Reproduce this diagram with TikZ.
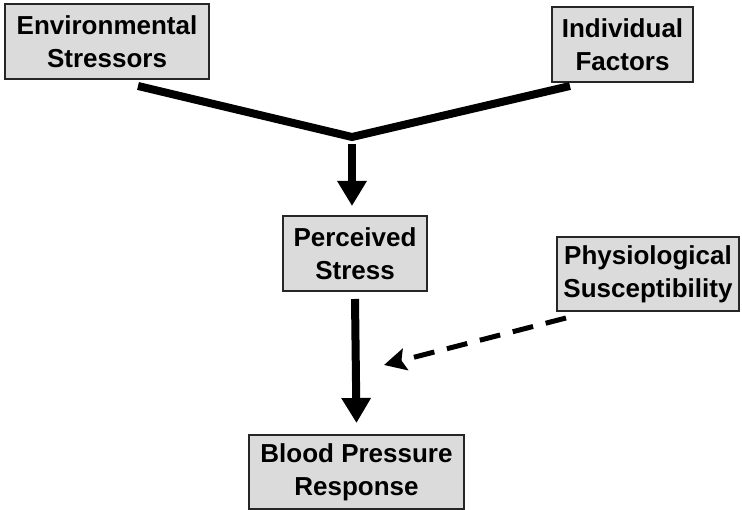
\documentclass[tikz,border=0pt]{standalone}
\usepackage{fontspec}
\setmainfont{Liberation Sans}
\usepackage{tikz}
\usetikzlibrary{calc,positioning,arrows,arrows.meta}
\tikzset{
	>=stealth',
	factorbox/.style={
		rectangle,
		fill=black!14,
		draw=black!85, line width=2pt,
		inner sep=0pt,
		align=center,
		font=\fontsize{26}{33}\selectfont\bfseries},
	vline/.style={draw, line width=8pt, line join=miter, line cap=butt},
	bigarrow/.style={draw, line width=8pt, -{Triangle[width=28pt,length=25pt]}},
	modline/.style={draw, line width=5pt, dash pattern=on 21pt off 13pt,
		-{Stealth[width=22pt,length=22pt,inset=4pt]}},
}
\begin{document}
\begin{tikzpicture}[x=1pt,y=1pt]
			\useasboundingbox (0,0) rectangle (742,510);
			\node[factorbox, minimum width=204pt, minimum height=75pt] (env) at (107,468.5) {Environmental\\Stressors};
			\node[factorbox, minimum width=141pt, minimum height=75pt] (indiv) at (622.5,465.5) {Individual\\Factors};
			\node[factorbox, minimum width=144pt, minimum height=75pt] (perceived) at (355,256.5) {Perceived\\Stress};
			\node[factorbox, minimum width=182pt, minimum height=74pt] (physio) at (648,236) {Physiological\\Susceptibility};
			\node[factorbox, minimum width=215pt, minimum height=74pt] (bpresp) at (356.5,38) {Blood Pressure\\Response};
			% joining of the two inputs
			\coordinate (envfoot) at (138,424);
			\coordinate (indfoot) at (570,424);
			\coordinate (apex) at (352,373);
			\path[vline] (envfoot) -- (apex) -- (indfoot);
			\path[bigarrow] ([yshift=-7pt]apex) -- ([yshift=9pt]apex |- perceived.north);
			\path[bigarrow] ([yshift=-7pt]perceived.south) -- ([yshift=11pt]bpresp.north);
			% moderating influence
			\coordinate (modpoint) at (384,145);
			\path[modline] ([xshift=10pt,yshift=-6pt]physio.south west) -- (modpoint);
\end{tikzpicture}
\end{document}
